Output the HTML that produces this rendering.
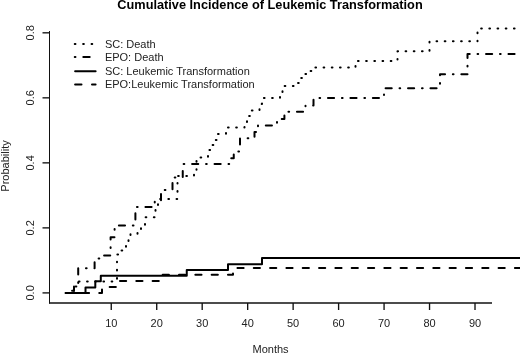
<!DOCTYPE html>
<html><head><meta charset="utf-8"><style>
html,body{margin:0;padding:0;background:#fff;}
svg{display:block;transform:translateZ(0);}
.ax{stroke:#111;stroke-width:1;fill:none;}
.tk{stroke:#111;stroke-width:1.35;fill:none;}
.c{stroke:#000;stroke-width:2;fill:none;stroke-linecap:round;stroke-linejoin:round;}
.t{font-family:"Liberation Sans",sans-serif;font-size:11px;fill:#222;}
.title{font-family:"Liberation Sans",sans-serif;font-size:12.75px;font-weight:bold;fill:#000;}
</style></head><body>
<svg width="520" height="353" viewBox="0 0 520 353">
<line x1="49.5" y1="31" x2="49.5" y2="303.5" class="ax"/>
<line x1="49" y1="303" x2="492" y2="303" class="tk"/>
<line x1="42.5" y1="292.90" x2="49.5" y2="292.90" class="tk"/>
<text x="0" y="0" transform="translate(33.8 292.90) rotate(-90)" text-anchor="middle" class="t">0.0</text>
<line x1="42.5" y1="227.88" x2="49.5" y2="227.88" class="tk"/>
<text x="0" y="0" transform="translate(33.8 227.88) rotate(-90)" text-anchor="middle" class="t">0.2</text>
<line x1="42.5" y1="162.86" x2="49.5" y2="162.86" class="tk"/>
<text x="0" y="0" transform="translate(33.8 162.86) rotate(-90)" text-anchor="middle" class="t">0.4</text>
<line x1="42.5" y1="97.84" x2="49.5" y2="97.84" class="tk"/>
<text x="0" y="0" transform="translate(33.8 97.84) rotate(-90)" text-anchor="middle" class="t">0.6</text>
<line x1="42.5" y1="32.82" x2="49.5" y2="32.82" class="tk"/>
<text x="0" y="0" transform="translate(33.8 32.82) rotate(-90)" text-anchor="middle" class="t">0.8</text>
<line x1="111.25" y1="303" x2="111.25" y2="310" class="tk"/>
<text x="111.25" y="326.7" text-anchor="middle" class="t">10</text>
<line x1="156.72" y1="303" x2="156.72" y2="310" class="tk"/>
<text x="156.72" y="326.7" text-anchor="middle" class="t">20</text>
<line x1="202.19" y1="303" x2="202.19" y2="310" class="tk"/>
<text x="202.19" y="326.7" text-anchor="middle" class="t">30</text>
<line x1="247.66" y1="303" x2="247.66" y2="310" class="tk"/>
<text x="247.66" y="326.7" text-anchor="middle" class="t">40</text>
<line x1="293.13" y1="303" x2="293.13" y2="310" class="tk"/>
<text x="293.13" y="326.7" text-anchor="middle" class="t">50</text>
<line x1="338.60" y1="303" x2="338.60" y2="310" class="tk"/>
<text x="338.60" y="326.7" text-anchor="middle" class="t">60</text>
<line x1="384.07" y1="303" x2="384.07" y2="310" class="tk"/>
<text x="384.07" y="326.7" text-anchor="middle" class="t">70</text>
<line x1="429.54" y1="303" x2="429.54" y2="310" class="tk"/>
<text x="429.54" y="326.7" text-anchor="middle" class="t">80</text>
<line x1="475.01" y1="303" x2="475.01" y2="310" class="tk"/>
<text x="475.01" y="326.7" text-anchor="middle" class="t">90</text>
<path d="M65.00 292.90 L74.00 292.90 L74.00 286.50 L77.60 286.50 L77.60 281.50 L117.00 281.50 L117.00 254.50 L121.50 254.50 L121.50 250.50 L126.00 250.50 L126.00 246.00 L128.50 246.00 L128.50 240.00 L130.50 240.00 L130.50 234.00 L137.50 234.00 L137.50 230.00 L141.00 230.00 L141.00 225.00 L145.00 225.00 L145.00 217.25 L155.50 217.25 L155.50 206.00 L158.00 206.00 L158.00 199.00 L177.50 199.00 L177.50 176.00 L194.00 176.00 L194.00 170.00 L196.50 170.00 L196.50 157.50 L208.00 157.50 L208.00 150.00 L211.00 150.00 L211.00 145.00 L214.00 145.00 L214.00 140.00 L216.50 140.00 L216.50 134.00 L226.00 134.00 L226.00 127.60 L244.50 127.60 L244.50 122.00 L247.00 122.00 L247.00 116.00 L250.00 116.00 L250.00 110.50 L259.50 110.50 L259.50 104.00 L262.00 104.00 L262.00 98.00 L280.00 98.00 L280.00 92.00 L282.50 92.00 L282.50 86.00 L296.00 86.00 L296.00 83.00 L299.00 83.00 L299.00 78.00 L303.00 78.00 L303.00 74.00 L308.00 74.00 L308.00 71.00 L312.00 71.00 L312.00 67.60 L355.50 67.60 L355.50 61.00 L397.50 61.00 L397.50 51.30 L429.50 51.30 L429.50 41.30 L477.50 41.30 L477.50 28.60 L519.00 28.60 L519.00 28.60" class="c" stroke-dasharray="0.7 7.49" stroke-dashoffset="-0.67"/>
<path d="M65.00 292.90 L71.20 292.90 L71.20 290.80 L74.00 290.80 L74.00 286.50 L78.20 286.50 L78.20 268.30 L94.60 268.30 L94.60 258.50 L101.50 258.50 L101.50 255.50 L110.60 255.50 L110.60 237.30 L114.60 237.30 L114.60 225.40 L135.40 225.40 L135.40 207.10 L154.75 207.10 L154.75 200.50 L161.00 200.50 L161.00 190.00 L172.50 190.00 L172.50 177.50 L182.75 177.50 L182.75 164.00 L229.50 164.00 L229.50 158.25 L233.75 158.25 L233.75 151.40 L240.00 151.40 L240.00 138.25 L254.50 138.25 L254.50 132.00 L258.00 132.00 L258.00 125.50 L277.00 125.50 L277.00 119.00 L284.40 119.00 L284.40 111.75 L305.50 111.75 L305.50 105.50 L313.50 105.50 L313.50 97.90 L384.00 97.90 L384.00 88.20 L440.00 88.20 L440.00 74.20 L467.50 74.20 L467.50 54.00 L520.00 54.00 L520.00 54.00" class="c" stroke-dasharray="0.7 7.79 6.16 7.79" stroke-dashoffset="-0.67"/>
<path d="M66.00 292.90 L85.50 292.90 L85.50 287.60 L95.30 287.60 L95.30 281.30 L100.80 281.30 L100.80 275.80 L186.75 275.80 L186.75 270.00 L228.00 270.00 L228.00 264.25 L262.00 264.25 L262.00 258.00 L520.00 258.00 L520.00 258.00" class="c"/>
<path d="M65.00 292.90 L102.00 292.90 L102.00 287.00 L116.00 287.00 L116.00 281.00 L160.50 281.00 L160.50 274.75 L233.00 274.75 L233.00 267.90 L520.00 267.90 L520.00 267.90" class="c" stroke-dasharray="6.2 10.12" stroke-dashoffset="-1.6"/>
<line x1="74.1" y1="44.05" x2="96.6" y2="44.05" class="c" stroke-dasharray="0.7 7.7" stroke-dashoffset="-0.65"/>
<text x="104.9" y="47.5" class="t">SC: Death</text>
<line x1="74.1" y1="56.9" x2="96.6" y2="56.9" class="c" stroke-dasharray="0.7 7.85 6.4 20" stroke-dashoffset="-0.65"/>
<text x="104.9" y="61" class="t">EPO: Death</text>
<line x1="75.1" y1="71.25" x2="95.6" y2="71.25" class="c"/>
<text x="104.9" y="74.5" class="t">SC: Leukemic Transformation</text>
<line x1="74.1" y1="84.4" x2="95.6" y2="84.4" class="c" stroke-dasharray="6.4 10.5" stroke-dashoffset="-1"/>
<text x="104.9" y="88" class="t">EPO:Leukemic Transformation</text>
<text x="270" y="9" text-anchor="middle" class="title">Cumulative Incidence of Leukemic Transformation</text>
<text x="270.6" y="353" text-anchor="middle" class="t">Months</text>
<text x="0" y="0" transform="translate(8.5 166) rotate(-90)" text-anchor="middle" class="t">Probability</text>
</svg>
</body></html>
